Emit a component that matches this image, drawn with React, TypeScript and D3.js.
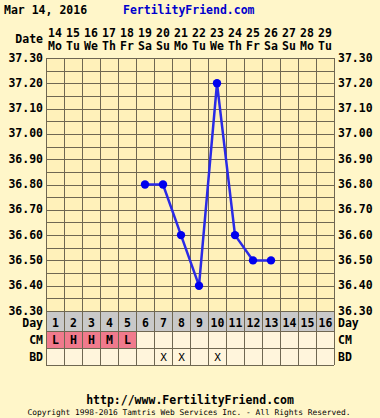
import React from "react";
import * as d3 from "d3";

const dates = ["14","15","16","17","18","19","20","21","22","23","24","25","26","27","28","29"];
const weekdays = ["Mo","Tu","We","Th","Fr","Sa","Su","Mo","Tu","We","Th","Fr","Sa","Su","Mo","Tu"];
const cycleDays = [1,2,3,4,5,6,7,8,9,10,11,12,13,14,15,16];
const tempDays = [6,7,8,9,10,11,12,13];
const temps = [36.8,36.8,36.6,36.4,37.2,36.6,36.5,36.5];
const cmDays = [1,2,3,4,5];
const cmValues = ["L","H","H","M","L"];
const bdDays = [7,8,10];
const yTicks = [37.3,37.2,37.1,37.0,36.9,36.8,36.7,36.6,36.5,36.4,36.3];

const W = 380, H = 418;
const L = 46, R = 334, T = 58, B = 311;
const ROW_DAY = [311, 331], ROW_CM = [331, 348], ROW_BD = [348, 365];
const FONT = "'DejaVu Sans Mono', 'Liberation Mono', monospace";
const GRID = "#6f6752";

export default function App() {
  const x = d3.scaleBand<number>().domain(cycleDays).range([L, R]).padding(0);
  const y = d3.scaleLinear().domain([36.3, 37.3]).range([B, T]);
  const bw = x.bandwidth();
  const cx = (d: number) => (x(d) as number) + bw / 2;
  const hLines = d3.range(0, 21).map((i) => 36.3 + i * 0.05);
  const line = d3.line<number>().x((_, i) => cx(tempDays[i])).y((v) => y(v));

  return (
    <svg width={W} height={H} style={{ position: "absolute", left: 0, top: 0, display: "block" }}>
      <rect x={0} y={0} width={W} height={H} fill="#fff6c9" />
      <text x={4} y={14} fontFamily={FONT} fontWeight="bold" fontSize={11.5} fill="#000">Mar 14, 2016</text>
      <text x={123} y={14} fontFamily={FONT} fontWeight="bold" fontSize={11.5} fill="#0000cc">FertilityFriend.com</text>
      <text x={43} y={43} textAnchor="end" fontFamily={FONT} fontWeight="bold" fontSize={11.5}>Date</text>
      {cycleDays.map((d, i) => (
        <g key={"h" + d}>
          <text x={cx(d)} y={37} textAnchor="middle" fontFamily={FONT} fontWeight="bold" fontSize={11.5}>{dates[i]}</text>
          <text x={cx(d)} y={50} textAnchor="middle" fontFamily={FONT} fontWeight="bold" fontSize={11.5}>{weekdays[i]}</text>
        </g>
      ))}
      <rect x={L} y={T} width={R - L} height={B - T} fill="#fff1ba" />
      {hLines.map((v, i) => (
        <line key={"hl" + i} x1={L} x2={R} y1={Math.round(y(v)) + 0.5} y2={Math.round(y(v)) + 0.5} stroke={GRID} strokeWidth={1} />
      ))}
      {cycleDays.concat([17]).map((d) => {
        const xx = d === 17 ? R : (x(d) as number);
        return <line key={"vl" + d} x1={xx + 0.5} x2={xx + 0.5} y1={T} y2={ROW_BD[1]} stroke={GRID} strokeWidth={1} />;
      })}
      {yTicks.map((t) => (
        <g key={"yt" + t}>
          <text x={43} y={y(t) + 3.5} textAnchor="end" fontFamily={FONT} fontWeight="bold" fontSize={11.5}>{t.toFixed(2)}</text>
          <text x={338} y={y(t) + 3.5} textAnchor="start" fontFamily={FONT} fontWeight="bold" fontSize={11.5}>{t.toFixed(2)}</text>
        </g>
      ))}
      {cycleDays.map((d) => {
        const ci = cmDays.indexOf(d);
        return (
          <g key={"r" + d}>
            <rect x={x(d)} y={ROW_DAY[0]} width={bw} height={ROW_DAY[1] - ROW_DAY[0]} fill="#c9c9c9" />
            <rect x={x(d)} y={ROW_CM[0]} width={bw} height={ROW_CM[1] - ROW_CM[0]} fill={ci >= 0 ? "#f07a8c" : "#fff5dc"} />
            <rect x={x(d)} y={ROW_BD[0]} width={bw} height={ROW_BD[1] - ROW_BD[0]} fill="#fff5dc" />
          </g>
        );
      })}
      {[ROW_DAY[0], ROW_CM[0], ROW_BD[0], ROW_BD[1]].map((yy, i) => (
        <line key={"rl" + i} x1={L} x2={R} y1={yy + 0.5} y2={yy + 0.5} stroke={GRID} strokeWidth={1} />
      ))}
      {cycleDays.concat([17]).map((d) => {
        const xx = d === 17 ? R : (x(d) as number);
        return <line key={"rv" + d} x1={xx + 0.5} x2={xx + 0.5} y1={ROW_DAY[0]} y2={ROW_BD[1]} stroke={GRID} strokeWidth={1} />;
      })}
      {cycleDays.map((d) => (
        <text key={"dn" + d} x={cx(d) + 0.5} y={326.5} textAnchor="middle" fontFamily={FONT} fontWeight="bold" fontSize={11.5}>{d}</text>
      ))}
      {cmDays.map((d, i) => (
        <text key={"cm" + d} x={cx(d) + 0.5} y={344} textAnchor="middle" fontFamily={FONT} fontWeight="bold" fontSize={11.5}>{cmValues[i]}</text>
      ))}
      {bdDays.map((d) => (
        <text key={"bd" + d} x={cx(d) + 0.5} y={361} textAnchor="middle" fontFamily={FONT} fontSize={11}>X</text>
      ))}
      {[["Day", 326.5], ["CM", 344], ["BD", 361]].map(([t, yy]) => (
        <g key={"lab" + t}>
          <text x={43} y={yy as number} textAnchor="end" fontFamily={FONT} fontWeight="bold" fontSize={11.5}>{t}</text>
          <text x={338} y={yy as number} textAnchor="start" fontFamily={FONT} fontWeight="bold" fontSize={11.5}>{t}</text>
        </g>
      ))}
      <path d={line(temps) || ""} fill="none" stroke="#2a2ae6" strokeWidth={2.5} />
      {temps.map((v, i) => (
        <circle key={"p" + i} cx={cx(tempDays[i])} cy={y(v)} r={4.2} fill="#0000ee" />
      ))}
      <text x={190} y={404} textAnchor="middle" fontFamily={FONT} fontWeight="bold" fontSize={11.5}>http://www.FertilityFriend.com</text>
      <text x={189} y={415} textAnchor="middle" fontFamily={FONT} fontSize={7.9}>Copyright 1998-2016 Tamtris Web Services Inc. - All Rights Reserved.</text>
    </svg>
  );
}
